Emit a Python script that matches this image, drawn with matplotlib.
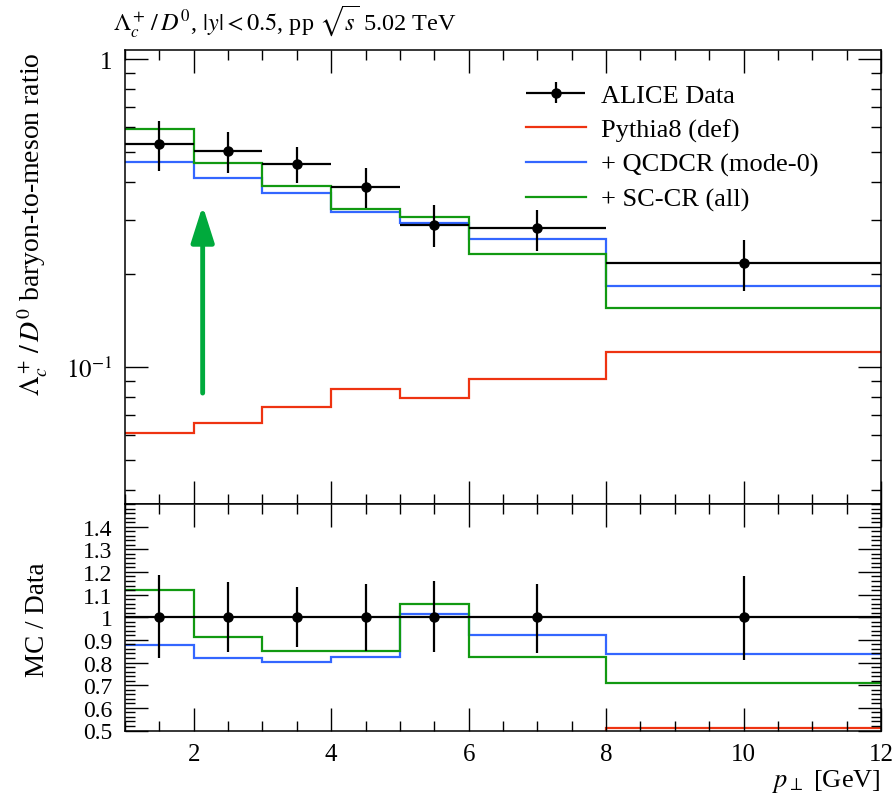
import numpy as np
import matplotlib
matplotlib.use("Agg")
import matplotlib.pyplot as plt
from matplotlib.ticker import FixedLocator, MultipleLocator, NullFormatter, FixedFormatter
from matplotlib.legend_handler import HandlerErrorbar
from matplotlib.container import ErrorbarContainer

plt.rcParams['font.family'] = ['Liberation Serif', 'DejaVu Serif']
plt.rcParams['mathtext.fontset'] = 'stix'

# ---- data ----
edges = [1, 2, 3, 4, 5, 6, 8, 12]
centers = [1.5, 2.5, 3.5, 4.5, 5.5, 7.0, 10.0]
data_vals = [0.530, 0.501, 0.456, 0.385, 0.290, 0.282, 0.218]
data_up = [0.628, 0.578, 0.517, 0.442, 0.337, 0.324, 0.258]
data_dn = [0.434, 0.425, 0.396, 0.328, 0.245, 0.238, 0.177]
pythia_def = [0.0611, 0.0660, 0.0741, 0.0849, 0.0791, 0.0914, 0.1116]
qcdcr_mode0 = [0.464, 0.410, 0.366, 0.318, 0.294, 0.260, 0.183]
sccr_all = [0.593, 0.458, 0.388, 0.327, 0.307, 0.233, 0.155]

labels = ["ALICE Data", "Pythia8 (def)", "+ QCDCR (mode-0)", "+ SC-CR (all)"]
colors = ["black", "#ee3311", "#3366ff", "#119911"]

W, H = 895, 803
fig = plt.figure(figsize=(W / 100, H / 100), dpi=100)

L, R = 125 / W, 881 / W
ax = fig.add_axes([L, 1 - 505 / H, R - L, (505 - 51) / H])
rax = fig.add_axes([L, 1 - 731.5 / H, R - L, (731.5 - 505) / H], sharex=ax)

d = np.array(data_vals)
x = np.array(centers)
e = np.array(edges)
xerr = np.vstack([x - e[:-1], e[1:] - x])
yerr = np.vstack([d - np.array(data_dn), np.array(data_up) - d])

lw = 1.6
h_data = ax.errorbar(x, d, xerr=xerr, yerr=yerr, fmt='o', color='black',
                     ms=6.5, elinewidth=1.6, capsize=0, zorder=5)
mcs = [pythia_def, qcdcr_mode0, sccr_all]
handles = [h_data]
for vals, c, lab in zip(mcs, colors[1:], labels[1:]):
    ax.stairs(vals, edges, baseline=None, color=c, lw=lw)
    handles.append(plt.Line2D([], [], color=c, lw=lw))

ax.set_yscale('log')
ax.set_ylim(0.0359, 1.07)
ax.set_xlim(1, 12)

# ratio panel
rel_up = np.array(data_up) / d
rel_dn = np.array(data_dn) / d
ryerr = np.vstack([1 - rel_dn, rel_up - 1])
rax.errorbar(x, np.ones_like(x), xerr=xerr, yerr=ryerr, fmt='o', color='black',
             ms=6.5, elinewidth=1.6, capsize=0, zorder=5)
for vals, c in zip(mcs, colors[1:]):
    rax.stairs(np.array(vals) / d, edges, baseline=None, color=c, lw=lw)
rax.set_ylim(0.5, 1.5)

# ---- ticks ----
for a in (ax, rax):
    a.tick_params(which='both', direction='in', top=True, right=True, width=1.0)
    a.tick_params(which='major', length=16.5)
    a.tick_params(which='minor', length=7.5)
    a.tick_params(axis='both', labelsize=18, pad=9)
    for s in a.spines.values():
        s.set_linewidth(1.1)

ax.xaxis.set_major_locator(MultipleLocator(2))
ax.xaxis.set_minor_locator(MultipleLocator(0.5))
ax.tick_params(axis='x', labelbottom=False)

ax.yaxis.set_major_locator(FixedLocator([0.1, 1.0]))
ax.yaxis.set_major_formatter(FixedFormatter([r"$10^{-1}$", "1"]))
minors = [m * 10.0 ** k for k in (-2, -1) for m in range(2, 10)]
ax.yaxis.set_minor_locator(FixedLocator(minors))
ax.yaxis.set_minor_formatter(NullFormatter())

rticks = [0.5, 0.6, 0.7, 0.8, 0.9, 1.0, 1.1, 1.2, 1.3, 1.4]
rlabels = ["0.5", "0.6", "0.7", "0.8", "0.9", "1", "1.1", "1.2", "1.3", "1.4"]
rax.yaxis.set_major_locator(FixedLocator(rticks))
rax.yaxis.set_major_formatter(FixedFormatter(rlabels))
rax.yaxis.set_minor_locator(MultipleLocator(0.02))
rax.yaxis.set_minor_formatter(NullFormatter())
rax.xaxis.set_major_locator(MultipleLocator(2))
rax.xaxis.set_minor_locator(MultipleLocator(0.5))
rax.set_xticks([2, 4, 6, 8, 10, 12])
rax.set_xticklabels(["2", "4", "6", "8", "10", "12"])
rax.tick_params(axis='y', labelsize=17)

# ---- arrow ----
ax.annotate("", xy=(2.13, 0.334), xytext=(2.13, 0.0823),
            arrowprops=dict(arrowstyle="-|>,head_length=2.2,head_width=0.7",
                            color="#00aa3c", lw=3.5, shrinkA=0, shrinkB=0))

# ---- legend ----
ax.legend(handles, labels, loc='upper left', bbox_to_anchor=(0.53, 0.926),
          frameon=False, fontsize=19, handlelength=2.27, handletextpad=0.57,
          labelspacing=0.41, borderpad=0, borderaxespad=0,
          handler_map={ErrorbarContainer: HandlerErrorbar(xerr_size=1.13, yerr_size=0.4)})

# ---- texts ----
fig.text(113 / W, 1 - 30 / H, r"$\Lambda_c^+\,/\,D^0$, $|y| < 0.5$, pp $\sqrt{s}$ 5.02 TeV",
         fontsize=17.5, ha='left', va='baseline')
fig.text(33 / W, 1 - 53 / H, r"$\Lambda_c^+\,/\,D^0$ baryon-to-meson ratio",
         fontsize=20, rotation=90, ha='center', va='top')
fig.text(38 / W, 1 - 620 / H, "MC / Data", fontsize=19.5, rotation=90,
         ha='center', va='center')
fig.text(881 / W, 1 - 787 / H, r"$p_\perp$ [GeV]", fontsize=19,
         ha='right', va='baseline')

fig.savefig("out.png", dpi=100)
